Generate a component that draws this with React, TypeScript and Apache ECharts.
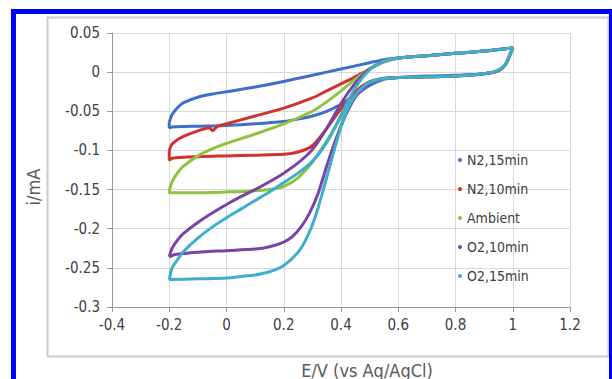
import React, { useEffect, useRef } from "react";
import * as echarts from "echarts";

// Each series: closed CV loop as [E (V), i (mA)] pairs.
const n2_15min: number[][] = [
  [-0.2, -0.064], [-0.19, -0.054], [-0.17, -0.045], [-0.15, -0.039], [-0.1, -0.032], [-0.05, -0.028],
  [0, -0.025], [0.1, -0.019], [0.2, -0.012], [0.3, -0.004], [0.4, 0.004], [0.5, 0.012],
  [0.55, 0.016], [0.6, 0.018], [0.7, 0.021], [0.8, 0.024], [0.9, 0.027], [1.0, 0.031],
  [0.99, 0.022], [0.975, 0.01], [0.95, 0.002], [0.9, -0.002], [0.8, -0.004], [0.7, -0.005],
  [0.6, -0.007], [0.55, -0.009], [0.5, -0.017], [0.45, -0.029], [0.4, -0.041], [0.35, -0.05],
  [0.3, -0.056], [0.25, -0.06], [0.2, -0.063], [0.1, -0.066], [0, -0.068], [-0.1, -0.069],
  [-0.19, -0.07], [-0.2, -0.071], [-0.2, -0.064],
];

const n2_10min: number[][] = [
  [-0.2, -0.1], [-0.19, -0.092], [-0.17, -0.086], [-0.15, -0.082], [-0.1, -0.075], [-0.06, -0.071],
  [-0.048, -0.075], [-0.04, -0.072], [-0.03, -0.069], [0, -0.066], [0.1, -0.056], [0.2, -0.046],
  [0.3, -0.033], [0.35, -0.024], [0.4, -0.015], [0.45, -0.006], [0.5, 0.004], [0.55, 0.013],
  [0.6, 0.018], [0.7, 0.021], [0.8, 0.024], [0.9, 0.027], [1.0, 0.031],
  [0.99, 0.022], [0.975, 0.01], [0.95, 0.002], [0.9, -0.002], [0.8, -0.005], [0.7, -0.006],
  [0.6, -0.007], [0.55, -0.008], [0.5, -0.012], [0.45, -0.025], [0.4, -0.047], [0.35, -0.072],
  [0.3, -0.094], [0.25, -0.102], [0.2, -0.105], [0.1, -0.106], [0, -0.107], [-0.1, -0.108],
  [-0.19, -0.11], [-0.2, -0.113], [-0.2, -0.1],
];

const ambient: number[][] = [
  [-0.2, -0.152], [-0.19, -0.14], [-0.17, -0.128], [-0.15, -0.12], [-0.1, -0.107], [-0.05, -0.098],
  [0, -0.091], [0.1, -0.079], [0.2, -0.066], [0.3, -0.05], [0.35, -0.038], [0.4, -0.024],
  [0.45, -0.009], [0.5, 0.004], [0.55, 0.013], [0.6, 0.018], [0.7, 0.021], [0.8, 0.024],
  [0.9, 0.027], [1.0, 0.031],
  [0.99, 0.022], [0.975, 0.01], [0.95, 0.002], [0.9, -0.002], [0.8, -0.005], [0.7, -0.006],
  [0.6, -0.007], [0.55, -0.008], [0.5, -0.013], [0.45, -0.03], [0.4, -0.058], [0.35, -0.088],
  [0.3, -0.115], [0.25, -0.135], [0.2, -0.146], [0.15, -0.15], [0.08, -0.152],
  [0, -0.153], [-0.1, -0.154], [-0.2, -0.154], [-0.2, -0.152],
];

const o2_10min: number[][] = [
  [-0.2, -0.236], [-0.19, -0.225], [-0.17, -0.214], [-0.15, -0.206], [-0.1, -0.192], [-0.05, -0.18],
  [0, -0.169], [0.05, -0.159], [0.1, -0.15], [0.15, -0.14], [0.2, -0.129], [0.25, -0.116],
  [0.3, -0.099], [0.35, -0.072], [0.4, -0.04], [0.45, -0.014], [0.5, 0.004], [0.55, 0.014],
  [0.6, 0.018], [0.7, 0.021], [0.8, 0.024], [0.9, 0.027], [1.0, 0.031],
  [0.99, 0.022], [0.975, 0.01], [0.95, 0.002], [0.9, -0.002], [0.8, -0.005], [0.7, -0.006],
  [0.6, -0.007], [0.55, -0.008], [0.5, -0.014], [0.45, -0.032], [0.41, -0.06], [0.38, -0.088],
  [0.35, -0.12], [0.32, -0.155], [0.29, -0.18], [0.26, -0.198], [0.23, -0.21], [0.2, -0.217],
  [0.15, -0.223], [0.1, -0.226], [0, -0.228], [-0.1, -0.23], [-0.18, -0.233], [-0.2, -0.236],
];

const o2_15min: number[][] = [
  [-0.2, -0.265], [-0.19, -0.25], [-0.17, -0.239], [-0.15, -0.229], [-0.1, -0.212], [-0.05, -0.198],
  [0, -0.186], [0.05, -0.175], [0.1, -0.164], [0.15, -0.153], [0.2, -0.141], [0.25, -0.129],
  [0.3, -0.114], [0.35, -0.09], [0.4, -0.055], [0.45, -0.02], [0.5, 0.003], [0.55, 0.014],
  [0.6, 0.018], [0.7, 0.021], [0.8, 0.024], [0.9, 0.027], [1.0, 0.031],
  [0.99, 0.023], [0.975, 0.011], [0.95, 0.003], [0.9, -0.002], [0.8, -0.005], [0.7, -0.006],
  [0.6, -0.007], [0.55, -0.008], [0.5, -0.013], [0.46, -0.025], [0.43, -0.042], [0.4, -0.07],
  [0.37, -0.108], [0.34, -0.148], [0.31, -0.185], [0.28, -0.212], [0.25, -0.23], [0.2, -0.247],
  [0.15, -0.255], [0.1, -0.259], [0.05, -0.261], [0, -0.263], [-0.1, -0.264], [-0.2, -0.265],
];

const seriesNames = ["N2,15min", "N2,10min", "Ambient", "O2,10min", "O2,15min"];
const seriesData = [n2_15min, n2_10min, ambient, o2_10min, o2_15min];
const seriesColors = ["#3F6FCB", "#D0332F", "#8DC43E", "#7A44A6", "#3DAECB"];

const xMin = -0.4, xMax = 1.2, xStep = 0.2;
const yMin = -0.3, yMax = 0.05, yStep = 0.05;

const tickFont = "'Liberation Sans Narrow', 'DejaVu Sans Condensed', Arial, sans-serif";

export default function App() {
  const ref = useRef<HTMLDivElement>(null);
  useEffect(() => {
    if (!ref.current) return;
    const chart = echarts.init(ref.current, undefined, { renderer: "svg" });
    chart.setOption({
      animation: false,
      backgroundColor: "#ffffff",
      grid: { left: 112, right: 42, top: 33, bottom: 72 },
      xAxis: {
        type: "value",
        min: xMin,
        max: xMax,
        interval: xStep,
        axisLine: { show: true, onZero: false, lineStyle: { color: "#9a9a9a", width: 1 } },
        axisTick: { show: true, length: 5, lineStyle: { color: "#9a9a9a" } },
        splitLine: { show: true, lineStyle: { color: "#d9d9d9", width: 1 } },
        axisLabel: { color: "#404040", fontSize: 15, fontFamily: tickFont, margin: 10 },
      },
      yAxis: {
        type: "value",
        min: yMin,
        max: yMax,
        interval: yStep,
        axisLine: { show: true, onZero: false, lineStyle: { color: "#9a9a9a", width: 1 } },
        axisTick: { show: true, length: 5, lineStyle: { color: "#9a9a9a" } },
        splitLine: { show: true, lineStyle: { color: "#d9d9d9", width: 1 } },
        axisLabel: { color: "#404040", fontSize: 15, fontFamily: tickFont, margin: 12 },
      },
      legend: {
        orient: "vertical",
        left: 453,
        top: 148,
        icon: "circle",
        itemWidth: 4,
        itemHeight: 4,
        itemGap: 15,
        textStyle: { color: "#404040", fontSize: 14, lineHeight: 14, fontFamily: tickFont },
        data: seriesNames,
      },
      series: seriesData.map((d, k) => ({
        name: seriesNames[k],
        type: "line",
        data: d,
        showSymbol: false,
        smooth: 0.25,
        color: seriesColors[k],
        lineStyle: { width: 3, color: seriesColors[k] },
      })),
      graphic: [
        {
          type: "rect",
          shape: { x: 47.5, y: 17.5, width: 561, height: 339 },
          style: { fill: "none", stroke: "#cccccc", lineWidth: 2 },
          silent: true,
        },
        {
          type: "rect",
          shape: { x: 13.5, y: 11.5, width: 598, height: 400 },
          style: { fill: "none", stroke: "#0000ff", lineWidth: 5 },
          silent: true,
        },
        {
          type: "text",
          x: 367,
          y: 370,
          style: {
            text: "E/V (vs Ag/AgCl)",
            fill: "#595959",
            fontSize: 18,
            fontFamily: tickFont,
            align: "center",
            verticalAlign: "middle",
          },
        },
        {
          type: "text",
          x: 33,
          y: 187,
          rotation: Math.PI / 2,
          style: {
            text: "i/mA",
            fill: "#595959",
            fontSize: 18,
            fontFamily: tickFont,
            align: "center",
            verticalAlign: "middle",
          },
        },
      ],
    });
    return () => chart.dispose();
  }, []);
  return (
    <div
      ref={ref}
      style={{ position: "fixed", left: 0, top: 0, width: 612, height: 379 }}
    />
  );
}
